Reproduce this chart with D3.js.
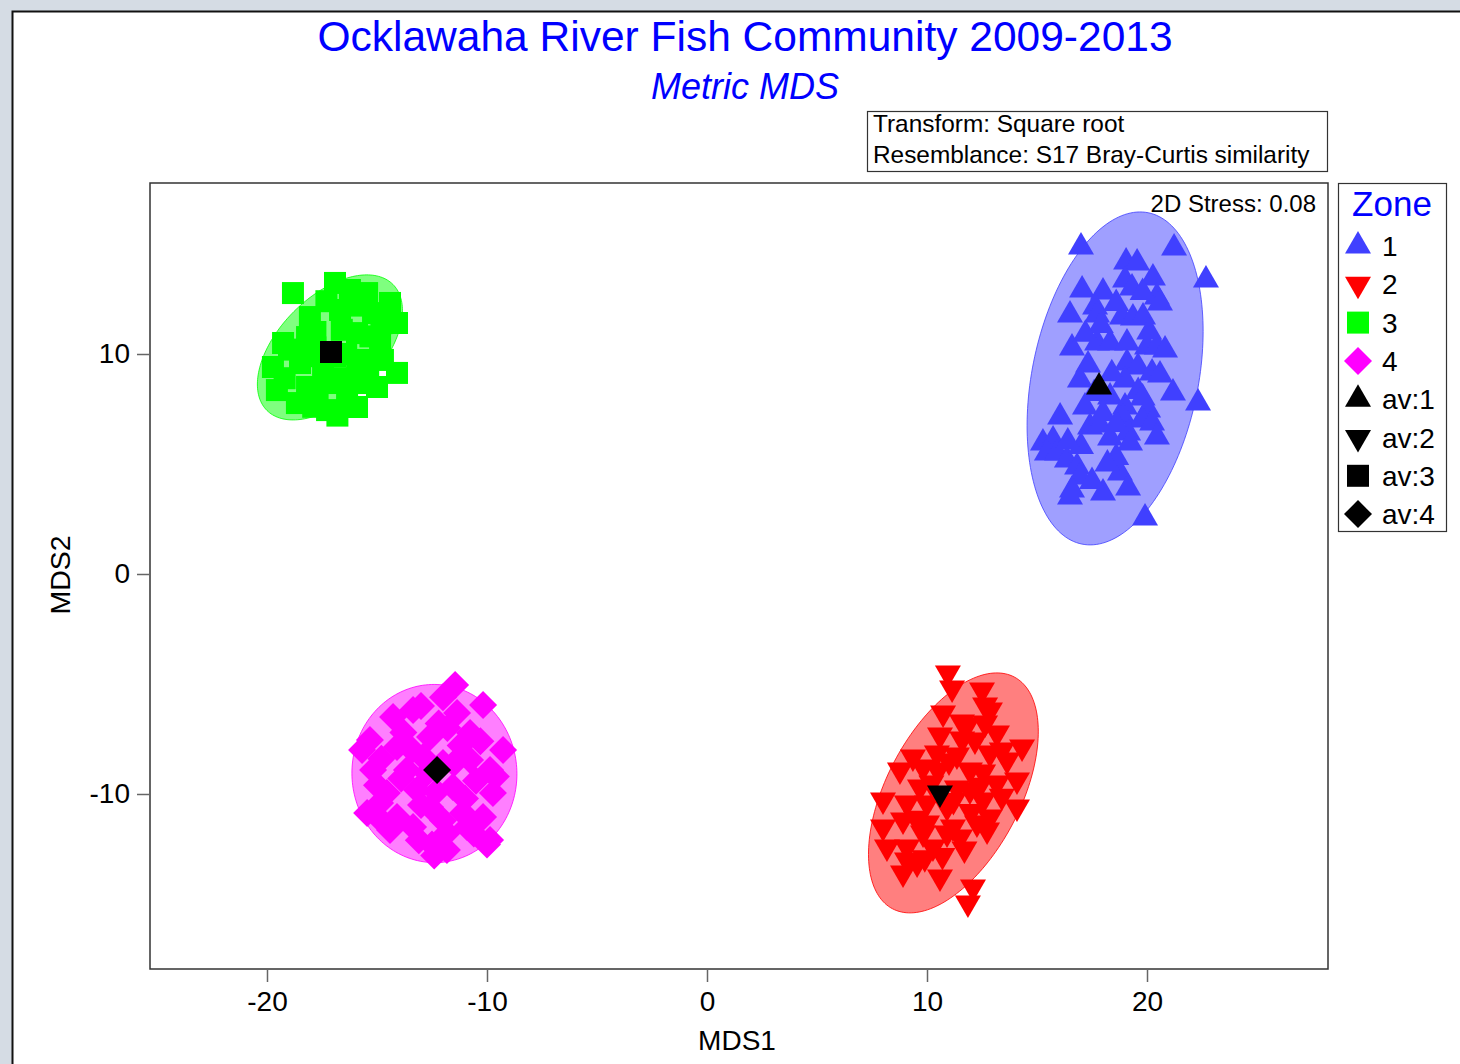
<!DOCTYPE html>
<html>
<head>
<meta charset="utf-8">
<script src="https://cdn.jsdelivr.net/npm/d3@7"></script>
<style>
  html, body { margin: 0; padding: 0; background: #d5dce4; }
  svg { display: block; font-family: "Liberation Sans", Arial, sans-serif; }
</style>
</head>
<body>
<svg id="chart" width="1460" height="1064"></svg>
<script>
// ---- Data: MDS ordination scores by zone ----
const zoneNames = ["1", "2", "3", "4"];
const zoneColors = ["#4040ff", "#ff0000", "#00ff00", "#ff00ff"];

const zone1Points = [
  [17.0,14.86],[21.23,14.82],[22.68,13.36],[19.05,14.18],[19.55,14.14],[20.27,13.45],
  [19.0,13.36],[19.32,13.0],[17.05,12.91],[18.0,12.82],[20.45,12.59],[20.59,12.32],
  [16.5,11.77],[17.64,12.14],[17.73,11.77],[18.86,11.68],[19.36,11.64],[19.82,11.68],
  [16.59,10.27],[17.73,10.5],[18.32,10.5],[19.09,10.5],[20.0,10.32],[20.45,10.32],[20.82,10.18],
  [17.32,9.5],[19.09,9.59],[19.59,9.41],[20.23,9.14],[20.59,9.05],[16.95,8.82],[19.0,8.82],
  [21.18,8.23],[22.32,7.77],[18.32,8.05],[17.18,7.59],[16.05,7.14],[19.0,7.59],[18.91,7.14],
  [20.05,7.45],[19.77,7.0],[20.23,6.86],[17.41,6.68],[17.86,6.77],[18.32,6.18],[19.14,6.41],
  [19.23,5.95],[20.45,6.23],[15.27,5.95],[15.73,6.09],[15.45,5.5],[15.91,5.5],[16.36,5.18],
  [16.82,4.86],[16.95,4.41],[18.77,4.59],[19.14,3.91],[18.0,3.68],[16.5,3.5],[16.59,3.82],
  [19.91,2.55],[18.4,9.1],[17.6,8.2],[19.6,8.3],[18.6,5.3],
  [17.9,11.3],[18.6,12.3],[19.8,12.8],[17.2,10.9],[20.1,11.0],[18.0,7.3],[18.6,6.8],
  [17.0,5.8],[19.8,8.0],[16.4,6.0],[18.2,5.0],[17.5,4.2]
];
const zone2Points = [
  [10.95,-4.5],[11.14,-5.18],[12.5,-5.27],[12.64,-5.95],[12.86,-6.18],[10.73,-6.32],
  [11.59,-6.73],[11.82,-6.86],[12.64,-6.77],[13.18,-7.23],[10.59,-7.32],[12.18,-7.55],
  [14.32,-7.86],[9.36,-8.32],[10.45,-8.14],[11.36,-8.23],[12.86,-8.14],[13.64,-8.45],
  [8.77,-8.91],[9.82,-8.77],[10.5,-8.91],[11.95,-8.91],[12.55,-9.0],[14.09,-9.36],
  [13.18,-9.5],[9.68,-9.68],[11.36,-9.73],[11.95,-9.82],[8.0,-10.27],[9.09,-10.41],
  [10.0,-10.41],[10.91,-10.59],[12.55,-10.27],[14.09,-10.59],[12.86,-11.05],[8.0,-11.5],
  [8.91,-11.18],[10.0,-11.32],[11.18,-11.5],[12.27,-11.32],[12.73,-11.64],[8.18,-12.41],
  [9.09,-12.41],[10.27,-12.41],[9.09,-13.0],[9.55,-13.14],[8.91,-13.59],[10.59,-13.77],
  [12.09,-14.23],[11.86,-14.95],[11.5,-11.95],[10.91,-11.77],[9.82,-11.77],[11.0,-8.5],[12.0,-10.8],
  [11.6,-7.5],[13.4,-8.0],[10.2,-9.5],[12.4,-9.6],[9.5,-11.1],[11.7,-12.5],[10.7,-12.8],
  [13.4,-10.1],[11.2,-10.3],[9.9,-12.9]
];
const zone3Points = [
  [-18.82,12.77],[-16.91,13.23],[-16.23,12.91],[-15.45,12.77],[-14.41,12.32],[-14.09,11.41],
  [-18.05,11.68],[-16.68,12.0],[-15.18,11.86],[-19.27,10.5],[-18.18,10.77],[-15.91,10.95],
  [-14.86,10.64],[-14.09,9.14],[-19.73,9.41],[-18.5,9.59],[-15.45,9.73],[-19.55,8.36],
  [-18.18,8.5],[-17.0,8.68],[-15.91,8.68],[-15.0,8.5],[-18.64,7.77],[-17.27,7.45],
  [-16.36,7.91],[-15.91,7.59],[-17.45,9.27],[-14.73,9.73],[-16.4,10.0],[-17.8,10.3],
  [-17.3,12.4],[-15.9,12.2],[-17.8,11.0],[-16.6,11.1],[-15.3,10.8],[-19.0,10.2],
  [-18.0,9.9],[-16.9,9.9],[-15.9,9.5],[-19.2,8.9],[-17.7,8.3],[-16.5,8.9],[-15.4,9.2],
  [-17.9,7.6],[-16.8,7.2],[-14.8,11.4]
];
const zone4Points = [
  [-11.45,-5.05],[-10.18,-5.95],[-15.68,-8.0],[-15.32,-7.55],[-9.27,-8.0],[-14.27,-6.5],
  [-13.36,-6.18],[-11.36,-6.32],[-12.59,-7.41],[-10.77,-7.23],[-14.09,-7.86],[-15.18,-8.91],
  [-10.77,-8.45],[-9.86,-8.91],[-13.64,-8.91],[-14.55,-9.95],[-13.18,-9.82],[-11.55,-9.68],
  [-9.73,-9.95],[-15.45,-10.86],[-14.09,-11.05],[-12.59,-10.59],[-11.09,-10.86],[-10.18,-11.05],
  [-14.41,-11.64],[-13.36,-11.5],[-11.82,-11.77],[-10.91,-11.5],[-11.82,-12.55],[-9.86,-12.09],
  [-12.91,-8.32],[-12.0,-8.59],[-12.73,-9.05],[-14.86,-10.41],[-10.0,-12.3],
  [-12.0,-5.6],[-13.0,-6.0],[-12.2,-6.8],[-13.8,-7.2],[-11.2,-7.8],[-10.3,-7.6],[-13.4,-8.0],
  [-14.8,-8.4],[-11.5,-8.6],[-10.5,-9.4],[-13.9,-9.3],[-12.3,-9.9],[-11.0,-10.2],[-15.0,-9.6],
  [-13.0,-10.5],[-12.0,-11.2],[-13.1,-12.1],[-12.5,-12.3],[-10.6,-11.8],[-14.8,-11.2],
  [-12.4,-12.8],[-9.6,-9.2],[-11.8,-7.0]
];
const zonePoints = [zone1Points, zone2Points, zone3Points, zone4Points];

// Zone averages
const zoneAverages = [[17.82, 8.5], [10.59, -9.95], [-17.09, 10.09], [-12.27, -8.91]];

// Ellipses: [centreX, centreY, semi-major, semi-minor, tilt of major axis from vertical (deg)]
const zoneEllipses = [
  [18.55, 8.89, 7.68, 3.78, 11.3],
  [11.2, -9.95, 5.95, 3.04, 27.7],
  [-17.14, 10.3, 4.05, 2.31, 45],
  [-12.39, -9.07, 4.05, 3.75, -2]
];

const xTicks = [-20, -10, 0, 10, 20];
const yTicks = [-10, 0, 10];
const legendLabels = ["1", "2", "3", "4", "av:1", "av:2", "av:3", "av:4"];

// ---- Layout ----
const svg = d3.select("#chart");
const plot = { left: 150, top: 183, right: 1328, bottom: 969 };

const x = d3.scaleLinear().domain([-25.318, 28.227]).range([plot.left, plot.right]);
const y = d3.scaleLinear().domain([-17.955, 17.773]).range([plot.bottom, plot.top]);

// Page panel
svg.append("rect").attr("x", 12.5).attr("y", 11.5).attr("width", 1460).attr("height", 1070)
  .attr("fill", "#ffffff").attr("stroke", "#111").attr("stroke-width", 2);

// Titles
svg.append("text").attr("x", 745).attr("y", 51).attr("text-anchor", "middle")
  .attr("font-size", 42.5).attr("fill", "#0000ff").text("Ocklawaha River Fish Community 2009-2013");
svg.append("text").attr("x", 745).attr("y", 99).attr("text-anchor", "middle")
  .attr("font-size", 36).attr("font-style", "italic").attr("fill", "#0000ff").text("Metric MDS");

// Info box
svg.append("rect").attr("x", 867.5).attr("y", 111.5).attr("width", 460).attr("height", 60)
  .attr("fill", "#fff").attr("stroke", "#333").attr("stroke-width", 1.2);
svg.append("text").attr("x", 873).attr("y", 132).attr("font-size", 24.4).attr("fill", "#000")
  .text("Transform: Square root");
svg.append("text").attr("x", 873).attr("y", 163).attr("font-size", 24.4).attr("fill", "#000")
  .text("Resemblance: S17 Bray-Curtis similarity");

// Plot frame
svg.append("rect").attr("x", plot.left).attr("y", plot.top)
  .attr("width", plot.right - plot.left).attr("height", plot.bottom - plot.top)
  .attr("fill", "#fff").attr("stroke", "#333").attr("stroke-width", 1.5);

// Axes
const xAxis = svg.append("g").attr("transform", `translate(0,${plot.bottom})`)
  .call(d3.axisBottom(x).tickValues(xTicks).tickSize(13).tickPadding(9).tickFormat(d3.format("d")));
const yAxis = svg.append("g").attr("transform", `translate(${plot.left},0)`)
  .call(d3.axisLeft(y).tickValues(yTicks).tickSize(13).tickPadding(7).tickFormat(d3.format("d")));
[xAxis, yAxis].forEach(g => {
  g.select(".domain").remove();
  g.selectAll(".tick line").attr("stroke", "#666").attr("stroke-width", 1.5);
  g.selectAll(".tick text").attr("font-size", 28).attr("fill", "#000")
    .attr("font-family", "Liberation Sans, Arial, sans-serif");
});
// use a plain hyphen for negative ticks
svg.selectAll(".tick text").text(function() { return this.textContent.replace("\u2212", "-"); });

svg.append("text").attr("x", 737).attr("y", 1050).attr("text-anchor", "middle")
  .attr("font-size", 28).attr("fill", "#000").text("MDS1");
svg.append("text").attr("transform", "translate(70,575) rotate(-90)").attr("text-anchor", "middle")
  .attr("font-size", 28.5).attr("fill", "#000").text("MDS2");

svg.append("text").attr("x", 1316).attr("y", 212).attr("text-anchor", "end")
  .attr("font-size", 24).attr("fill", "#000").text("2D Stress: 0.08");

// Symbols per zone
const triSize = 26 * 26 * Math.sqrt(3) / 4;
const symbolDefs = [
  { type: d3.symbolTriangle, size: triSize, rot: 0 },
  { type: d3.symbolTriangle, size: triSize, rot: 180 },
  { type: d3.symbolSquare, size: 22 * 22, rot: 0 },
  { type: d3.symbolSquare, size: 28 * 28 / 2, rot: 45 }
];
const symbolPath = i => d3.symbol(symbolDefs[i].type, symbolDefs[i].size)();

// Ellipses drawn in data space, then mapped through the scales
const ellipseLine = d3.line().x(d => x(d[0])).y(d => y(d[1])).curve(d3.curveLinearClosed);
function ellipsePoints(e) {
  const [cx, cy, a, b, deg] = e;
  const th = deg * Math.PI / 180;
  const ux = Math.sin(th), uy = Math.cos(th);   // major axis direction
  const vx = Math.cos(th), vy = -Math.sin(th);  // minor axis direction
  return d3.range(0, 360, 2).map(t => {
    const r = t * Math.PI / 180;
    return [cx + a * Math.cos(r) * ux + b * Math.sin(r) * vx,
            cy + a * Math.cos(r) * uy + b * Math.sin(r) * vy];
  });
}

const plotG = svg.append("g");
zoneEllipses.forEach((e, i) => {
  plotG.append("path").attr("d", ellipseLine(ellipsePoints(e)))
    .attr("fill", zoneColors[i]).attr("fill-opacity", 0.5)
    .attr("stroke", zoneColors[i]).attr("stroke-opacity", 0.8).attr("stroke-width", 1);
});

zonePoints.forEach((pts, i) => {
  plotG.append("g").selectAll("path").data(pts).join("path")
    .attr("d", symbolPath(i))
    .attr("transform", d => `translate(${x(d[0])},${y(d[1])}) rotate(${symbolDefs[i].rot})`)
    .attr("fill", zoneColors[i]);
});

plotG.append("g").selectAll("path").data(zoneAverages).join("path")
  .attr("d", (d, i) => symbolPath(i))
  .attr("transform", (d, i) => `translate(${x(d[0])},${y(d[1])}) rotate(${symbolDefs[i].rot})`)
  .attr("fill", "#000");

// Legend
const legend = svg.append("g");
legend.append("rect").attr("x", 1338.5).attr("y", 183.5).attr("width", 108).attr("height", 348)
  .attr("fill", "#fff").attr("stroke", "#333").attr("stroke-width", 1.2);
legend.append("text").attr("x", 1392).attr("y", 216).attr("text-anchor", "middle")
  .attr("font-size", 35).attr("fill", "#0000ff").text("Zone");
legendLabels.forEach((lab, k) => {
  const cy = 246 + k * 38.3;
  const si = k % 4;
  legend.append("path").attr("d", symbolPath(si))
    .attr("transform", `translate(1358,${cy}) rotate(${symbolDefs[si].rot})`)
    .attr("fill", k < 4 ? zoneColors[si] : "#000");
  legend.append("text").attr("x", 1382).attr("y", cy + 10).attr("font-size", 28)
    .attr("fill", "#000").text(lab);
});
</script>
</body>
</html>
